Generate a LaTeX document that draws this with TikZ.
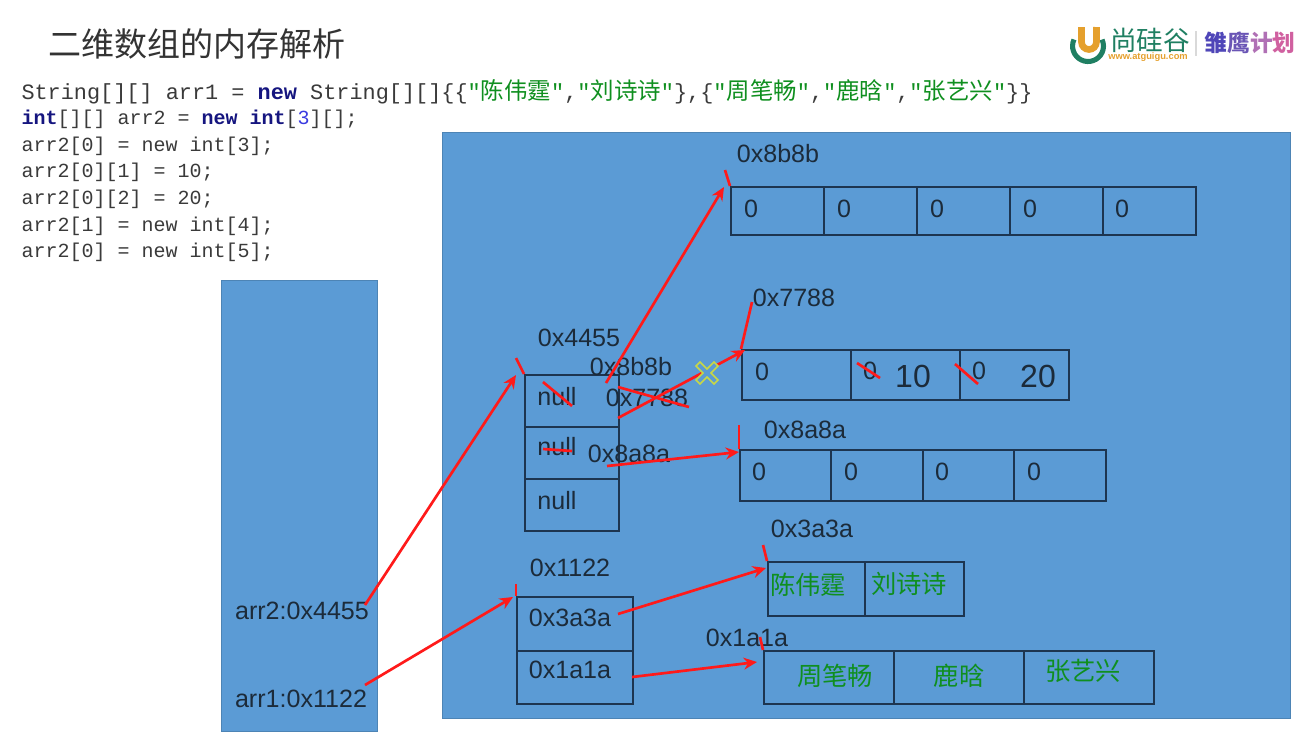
\documentclass[tikz,border=0pt]{standalone}
\usepackage{fontspec}
\setmainfont{Liberation Sans}
\setmonofont{Liberation Mono}
\newfontfamily\cjk{Noto Sans CJK SC}
\usetikzlibrary{arrows.meta}

\definecolor{memblue}{HTML}{5B9BD5}
\definecolor{lbldark}{HTML}{1C2B3A}
\definecolor{celledge}{HTML}{1D3550}
\definecolor{redline}{HTML}{FF1A1A}
\definecolor{namegreen}{HTML}{0F8F1F}
\definecolor{codegray}{HTML}{3A3A3A}
\definecolor{kwnavy}{HTML}{15157F}
\definecolor{logogreen}{HTML}{1F7F62}
\definecolor{logoorange}{HTML}{E5A02D}

\newcommand{\kwd}[1]{\textcolor{kwnavy}{\bfseries #1}}
\newcommand{\zhname}[1]{{\cjk\fontsize{17.6}{18}\selectfont\textcolor{namegreen}{#1}}}

\tikzset{every picture/.style={line width=0.75pt}}
\tikzset{
  memarea/.style={fill=memblue,draw=memblue!85!black,line width=0.5pt,inner sep=0pt,anchor=north west},
  cell/.style 2 args={draw=celledge,line width=1.3pt,inner sep=0pt,anchor=north west,
    minimum width=#1*0.75pt,minimum height=#2*0.75pt},
  lbl/.style={text=lbldark,font=\fontsize{18.8}{20}\selectfont,inner sep=0pt},
  bignum/.style={text=lbldark,font=\fontsize{24}{26}\selectfont,inner sep=0pt},
  zhcell/.style={text=namegreen,font=\cjk\fontsize{19}{20}\selectfont,inner sep=0pt},
  codeline/.style={text=codegray,anchor=west,inner sep=0pt,font=\ttfamily\fontsize{15}{16}\selectfont},
  redarrow/.style={draw=redline,line width=2pt,-{Stealth[length=10pt,width=9pt]}},
  redtick/.style={draw=redline,line width=2pt},
}

\begin{document}
\begin{tikzpicture}[x=0.75pt,y=0.75pt,yscale=-1,xscale=1]
\useasboundingbox (0,0) rectangle (1298,733);

%title
\node[inner sep=0pt,anchor=west,text=black!80,font=\cjk\fontsize{24.75}{27}\selectfont] (title) at (48,44) {二维数组的内存解析};

%logo
\draw [logogreen,line width=3.8pt] (1074,39.5) arc [start angle=205,end angle=-25,radius=11.6pt] ;
\draw [logoorange,line width=5pt] (1081.5,27) -- (1081.5,42) arc [start angle=180,end angle=0,radius=5.6pt] -- (1096.5,27) ;
\node[inner sep=0pt,text=logogreen,font=\cjk\fontsize{20}{22}\selectfont] (logoname) at (1150,40) {尚硅谷};
\node[inner sep=0pt,text=logoorange,font=\bfseries\fontsize{7}{8}\selectfont] (logourl) at (1148,57) {www.atguigu.com};
\draw [black!15,line width=1pt] (1196,31) -- (1196,56) ;
\node[inner sep=0pt,font=\cjk\bfseries\fontsize{17}{18}\selectfont] (logoplan) at (1250,43) {\textcolor[HTML]{4F46B8}{雏}\textcolor[HTML]{6A55B5}{鹰}\textcolor[HTML]{B070B5}{计}\textcolor[HTML]{D060A0}{划}};

%code
\node[codeline,font=\ttfamily\fontsize{16.4}{17}\selectfont] (code1) at (21,92) {String[][] arr1 = \kwd{new} String[][]\{\{\textcolor{namegreen}{"}\zhname{陈伟霆}\textcolor{namegreen}{"},\textcolor{namegreen}{"}\zhname{刘诗诗}\textcolor{namegreen}{"}\},\{\textcolor{namegreen}{"}\zhname{周笔畅}\textcolor{namegreen}{"},\textcolor{namegreen}{"}\zhname{鹿晗}\textcolor{namegreen}{"},\textcolor{namegreen}{"}\zhname{张艺兴}\textcolor{namegreen}{"}\}\}};
\node[codeline] (code2) at (21,119) {\kwd{int}[][] arr2 = \kwd{new} \kwd{int}[\textcolor[HTML]{3A3AE0}{3}][];};
\node[codeline] (code3) at (21,146) {arr2[0] = new int[3];};
\node[codeline] (code4) at (21,172) {arr2[0][1] = 10;};
\node[codeline] (code5) at (21,199) {arr2[0][2] = 20;};
\node[codeline] (code6) at (21,226) {arr2[1] = new int[4];};
\node[codeline] (code7) at (21,252) {arr2[0] = new int[5];};

%memory areas
\node[memarea,minimum width=117pt,minimum height=338.25pt] (stack) at (221,280) {};
\node[memarea,minimum width=636pt,minimum height=439.5pt] (heap) at (442,132) {};

%array 0x8b8b
\node[cell={93}{48}] (rowAa) at (730,186) {};
\node[cell={93}{48}] (rowAb) at (823,186) {};
\node[cell={93}{48}] (rowAc) at (916,186) {};
\node[cell={93}{48}] (rowAd) at (1009,186) {};
\node[cell={93}{48}] (rowAe) at (1102,186) {};
\node[lbl] (addrA) at (778,154) {0x8b8b};
\node[lbl] (zeroAa) at (751,209) {0};
\node[lbl] (zeroAb) at (844,209) {0};
\node[lbl] (zeroAc) at (937,209) {0};
\node[lbl] (zeroAd) at (1030,209) {0};
\node[lbl] (zeroAe) at (1122,209) {0};

%array 0x7788
\node[cell={109}{50}] (rowBa) at (741,349) {};
\node[cell={109}{50}] (rowBb) at (850,349) {};
\node[cell={109}{50}] (rowBc) at (959,349) {};
\node[lbl] (addrB) at (794,298) {0x7788};
\node[lbl] (zeroBa) at (762,372) {0};
\node[lbl] (zeroBb) at (870,371) {0};
\node[lbl] (zeroBc) at (979,371) {0};
\node[bignum] (numBb) at (913,376) {10};
\node[bignum] (numBc) at (1038,376) {20};

%array 0x8a8a
\node[cell={91}{51}] (rowCa) at (739,449) {};
\node[cell={92}{51}] (rowCb) at (830,449) {};
\node[cell={91}{51}] (rowCc) at (922,449) {};
\node[cell={92}{51}] (rowCd) at (1013,449) {};
\node[lbl] (addrC) at (805,430) {0x8a8a};
\node[lbl] (zeroCa) at (759,472) {0};
\node[lbl] (zeroCb) at (851,472) {0};
\node[lbl] (zeroCc) at (942,472) {0};
\node[lbl] (zeroCd) at (1034,472) {0};

%array 0x3a3a
\node[cell={97}{54}] (rowDa) at (767,561) {};
\node[cell={99}{54}] (rowDb) at (864,561) {};
\node[lbl] (addrD) at (812,529) {0x3a3a};
\node[zhcell] (nameDa) at (808,585) {陈伟霆};
\node[zhcell] (nameDb) at (909,584) {刘诗诗};

%array 0x1a1a
\node[cell={130}{53}] (rowEa) at (763,650) {};
\node[cell={130}{53}] (rowEb) at (893,650) {};
\node[cell={130}{53}] (rowEc) at (1023,650) {};
\node[lbl] (addrE) at (747,638) {0x1a1a};
\node[zhcell] (nameEa) at (835,676) {周笔畅};
\node[zhcell] (nameEb) at (959,676) {鹿晗};
\node[zhcell] (nameEc) at (1083,671) {张艺兴};

%array 0x4455
\node[cell={94}{52}] (outerAa) at (524,374) {};
\node[cell={94}{52}] (outerAb) at (524,426) {};
\node[cell={94}{52}] (outerAc) at (524,478) {};
\node[lbl] (addrOuterA) at (579,338) {0x4455};
\node[lbl] (nullA) at (557,397) {null};
\node[lbl] (nullB) at (557,447) {null};
\node[lbl] (nullC) at (557,501) {null};
\node[lbl] (slotA) at (631,367) {0x8b8b};
\node[lbl] (slotB) at (647,398) {0x7788};
\node[lbl] (slotC) at (629,454) {0x8a8a};

%array 0x1122
\node[cell={116}{54}] (outerBa) at (516,596) {};
\node[cell={116}{53}] (outerBb) at (516,650) {};
\node[lbl] (addrOuterB) at (570,568) {0x1122};
\node[lbl] (slotD) at (570,618) {0x3a3a};
\node[lbl] (slotE) at (570,670) {0x1a1a};

%stack labels
\node[lbl] (varB) at (302,611) {arr2:0x4455};
\node[lbl] (varA) at (301,699) {arr1:0x1122};

%free ends of the arrows
\coordinate (startVarB) at (365,605);
\coordinate (startVarA) at (365,685);
\coordinate (startA) at (606,383);
\coordinate (startB) at (618,418);
\coordinate (startC) at (607,466);
\coordinate (startD) at (618,614);
\coordinate (startE) at (632,677);
\coordinate (tipOuterA) at (516,375);
\coordinate (tipOuterB) at (513,597);
\coordinate (tipA) at (724,187);
\coordinate (tipB) at (745,350);
\coordinate (tipC) at (739,452);
\coordinate (tipD) at (766,568);
\coordinate (tipE) at (757,662);
\coordinate (tickOuterA) at (516,358);
\coordinate (tickOuterB) at (516,584);
\coordinate (tickA) at (725,170);
\coordinate (tickB) at (752,302);
\coordinate (tickC) at (739,425);
\coordinate (tickD) at (763,545);
\coordinate (tickE) at (760,637);

%arrows
\draw[redarrow] (startVarB) -- (tipOuterA);
\draw[redarrow] (startVarA) -- (tipOuterB);
\draw[redarrow] (startA) -- (tipA);
\draw[redarrow] (startB) -- (tipB);
\draw[redarrow] (startC) -- (tipC);
\draw[redarrow] (startD) -- (tipD);
\draw[redarrow] (startE) -- (tipE);

%ticks
\draw[redtick] (tickOuterA) -- (outerAa.north west);
\draw[redtick] (tickOuterB) -- (outerBa.north west);
\draw[redtick] (tickA) -- (rowAa.north west);
\draw[redtick] (tickB) -- (rowBa.north west);
\draw[redtick] (tickC) -- (rowCa.north west);
\draw[redtick] (tickD) -- (rowDa.north west);
\draw[redtick] (tickE) -- (rowEa.north west);

%strike outs
\draw[redtick] (543,382) -- (572,406);
\draw[redtick] (543,449) -- (572,451);
\draw[redtick] (618,387) -- (689,407);
\draw[redtick] (857,363) -- (880,378);
\draw[redtick] (955,364) -- (978,384);

%yellow cross
\draw [draw={rgb, 255:red, 200; green, 215; blue, 70 },fill=memblue,line width=1.3pt,shift={(707,373)}] (-7,-11) -- (0,-4) -- (7,-11) -- (11,-7) -- (4,0) -- (11,7) -- (7,11) -- (0,4) -- (-7,11) -- (-11,7) -- (-4,0) -- (-11,-7) -- cycle ;

\end{tikzpicture}
\end{document}
